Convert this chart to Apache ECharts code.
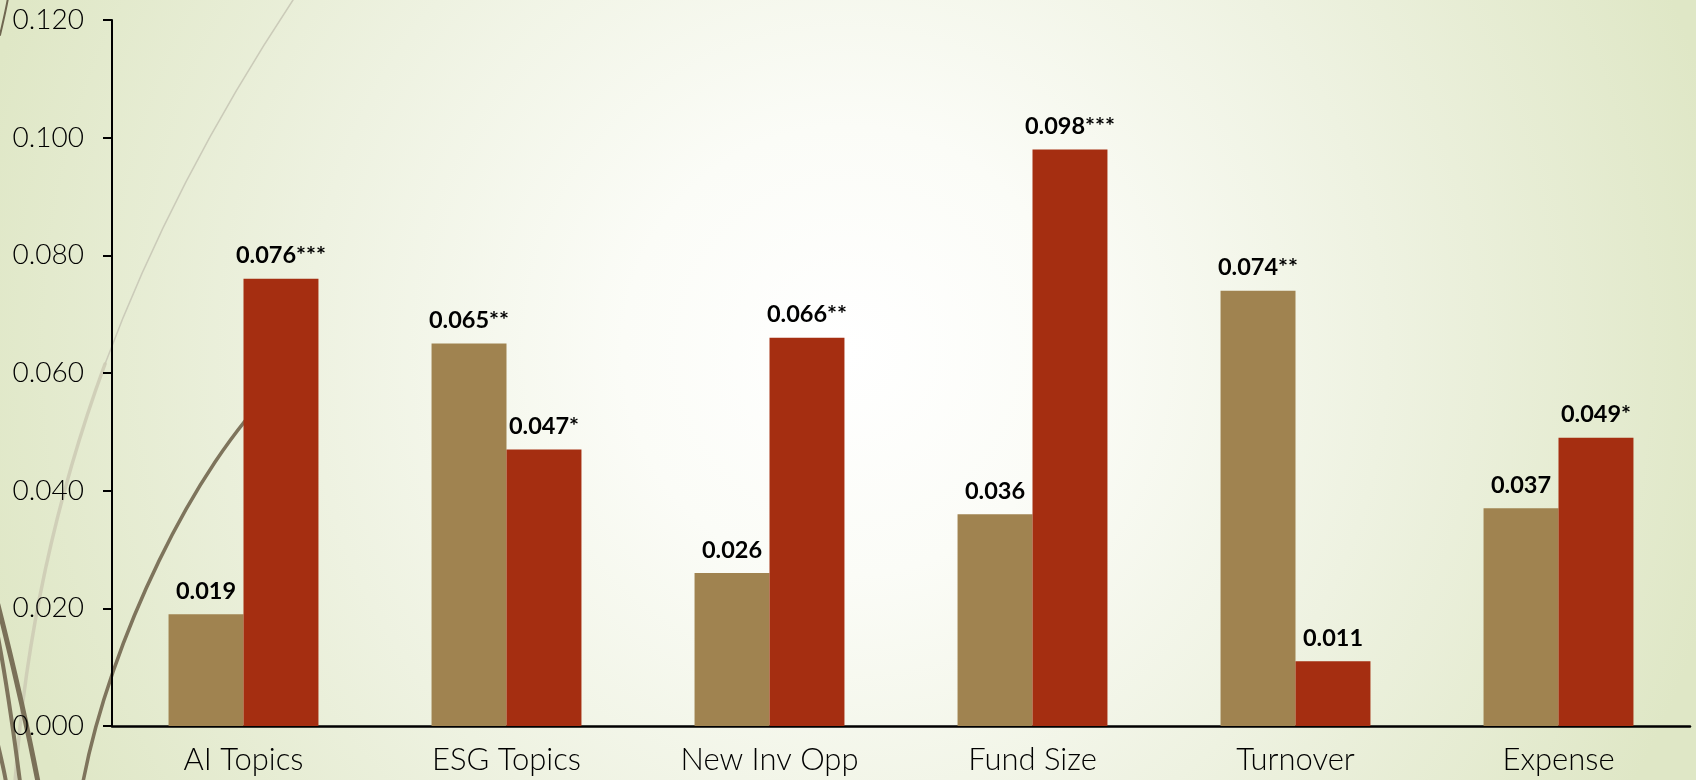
<!DOCTYPE html>
<html>
<head>
<meta charset="utf-8">
<title>Coefficients by characteristic</title>
<script src="https://cdn.jsdelivr.net/npm/echarts@6/dist/echarts.min.js"></script>
<style>
  html, body { margin: 0; padding: 0; width: 1696px; height: 780px; overflow: hidden; }
  #chart { width: 1696px; height: 780px; }
</style>
</head>
<body>
<div id="chart"></div>
<script>
// Categories along the x axis
const categories = ['AI Topics', 'ESG Topics', 'New Inv Opp', 'Fund Size', 'Turnover', 'Expense'];

// Coefficients for the two groups
const firstValues  = [0.019, 0.065, 0.026, 0.036, 0.074, 0.037];
const secondValues = [0.076, 0.047, 0.066, 0.098, 0.011, 0.049];

// Significance markers appended to each value label
const firstStars  = ['', '**', '', '', '**', ''];
const secondStars = ['***', '*', '**', '***', '', '*'];

// Value axis range and step
const yMin = 0;
const yMax = 0.12;
const yStep = 0.02;

const TAN = '#a08350';
const RUST = '#a52e11';

function valueLabel(stars) {
  return {
    show: true,
    position: 'top',
    distance: 11,
    color: '#000',
    fontFamily: 'Lato',
    fontWeight: 'bold',
    fontSize: 23.5,
    formatter: function (p) { return p.value.toFixed(3) + stars[p.dataIndex]; }
  };
}

// Decorative wisps along the left edge (cubic curves: start, control 1, control 2, end)
function wisp(p0, c1, c2, p1, width, color) {
  return {
    type: 'bezierCurve',
    z: 0,
    silent: true,
    shape: {
      x1: p0[0], y1: p0[1],
      cpx1: c1[0], cpy1: c1[1],
      cpx2: c2[0], cpy2: c2[1],
      x2: p1[0], y2: p1[1]
    },
    style: { stroke: color, lineWidth: width, fill: null, lineCap: 'round' }
  };
}

const chart = echarts.init(document.getElementById('chart'), null, { renderer: 'canvas' });

chart.setOption({
  backgroundColor: {
    type: 'radial',
    x: 0.5, y: 0.45, r: 1.15,
    colorStops: [
      { offset: 0, color: '#ffffff' },
      { offset: 0.25, color: '#fbfcf7' },
      { offset: 0.6, color: '#eef2e1' },
      { offset: 1, color: '#dfe7c6' }
    ]
  },
  animation: false,
  graphic: [
    wisp([293, 0], [217, 115], [153, 235], [105, 364], 1.5, '#cbcbb9'),
    wisp([105, 364], [58, 492], [26, 630], [15, 782], 3.5, 'rgba(204,202,180,0.85)'),
    wisp([275, 388], [195, 465], [110, 640], [83, 782], 3.5, '#7e745c'),
    wisp([-2, 605], [12, 660], [28, 730], [38, 782], 5, '#7a7058'),
    wisp([-2, 637], [7, 685], [14, 735], [20, 782], 4, '#7e745c'),
    wisp([-2, 745], [1, 758], [4, 770], [6, 782], 4, '#7e745c'),
    wisp([8, -2], [6, 10], [3, 22], [0, 35], 2, '#6f6650')
  ],
  grid: { left: 112, right: 6, top: 20, bottom: 54, containLabel: false },
  xAxis: {
    type: 'category',
    data: categories,
    axisLine: { show: true, lineStyle: { color: '#000', width: 2.5 } },
    axisTick: { show: false },
    axisLabel: {
      color: '#000',
      fontFamily: 'Lato',
      fontWeight: 300,
      fontSize: 31,
      margin: 18
    }
  },
  yAxis: {
    type: 'value',
    min: yMin,
    max: yMax,
    interval: yStep,
    splitLine: { show: false },
    axisLine: { show: true, lineStyle: { color: '#000', width: 2 } },
    axisTick: { show: true, length: 9, lineStyle: { color: '#000', width: 2 } },
    axisLabel: {
      color: '#000',
      fontFamily: 'Lato',
      fontWeight: 300,
      fontSize: 28,
      margin: 28,
      formatter: function (v) { return v.toFixed(3); }
    }
  },
  series: [
    {
      name: 'Group 1',
      type: 'bar',
      data: firstValues,
      barGap: '0%',
      barCategoryGap: '43%',
      itemStyle: { color: TAN },
      label: valueLabel(firstStars)
    },
    {
      name: 'Group 2',
      type: 'bar',
      data: secondValues,
      barGap: '0%',
      barCategoryGap: '43%',
      itemStyle: { color: RUST },
      label: valueLabel(secondStars)
    }
  ]
});
</script>
</body>
</html>
